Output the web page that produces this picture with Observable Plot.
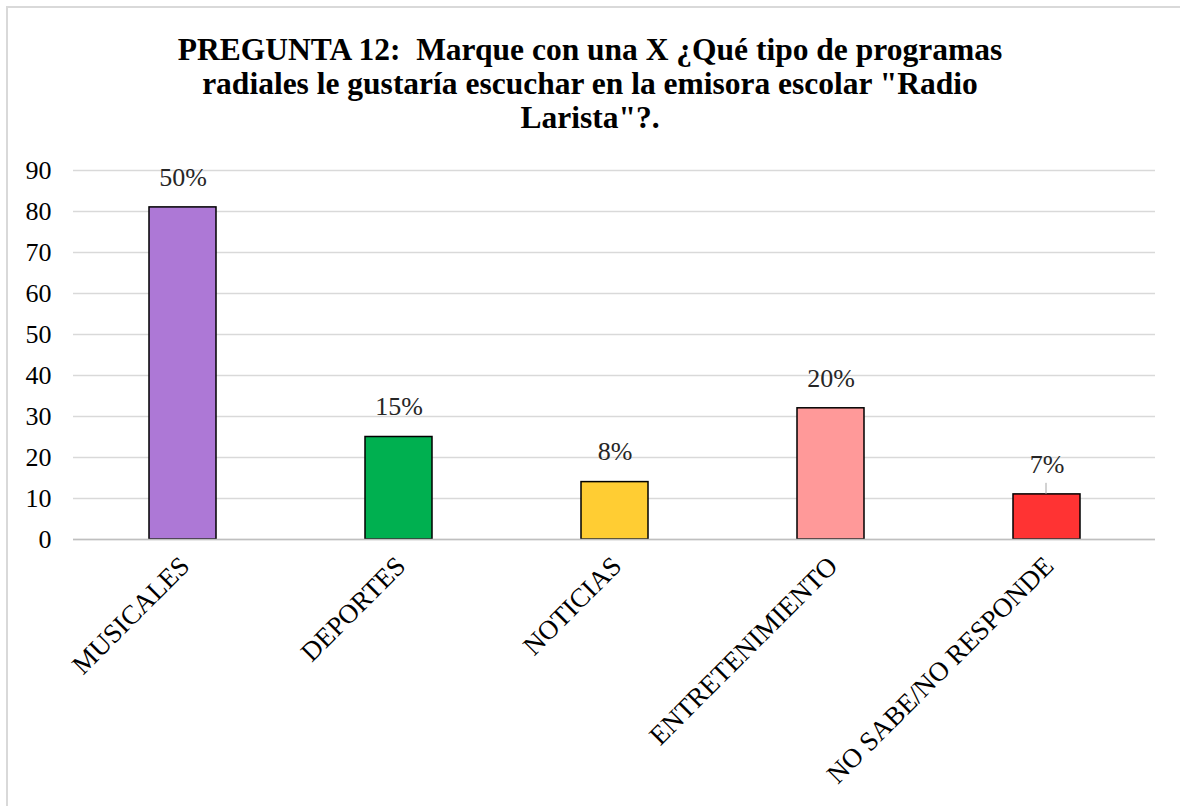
<!DOCTYPE html>
<html>
<head>
<meta charset="utf-8">
<script src="https://cdn.jsdelivr.net/npm/d3@7"></script>
<script src="https://cdn.jsdelivr.net/npm/@observablehq/plot@0.6"></script>
<style>
  html, body { margin: 0; padding: 0; background: #fff; }
  #wrap { position: relative; width: 1180px; height: 806px; overflow: hidden; font-family: "Liberation Serif", "Times New Roman", serif; }
  #frame { position: absolute; left: 6px; top: 6px; width: 1300px; height: 900px; border-left: 2px solid #d9d9d9; border-top: 2px solid #d9d9d9; box-sizing: border-box; }
  #title { position: absolute; left: 0; width: 1180px; top: 33px; text-align: center; font-weight: bold; font-size: 31.5px; line-height: 34px; color: #000; white-space: pre; }
  #chart { position: absolute; left: 0; top: 140px; }
  #chart svg, #chart svg text { font-family: "Liberation Serif", "Times New Roman", serif !important; }
</style>
</head>
<body>
<div id="wrap">
  <div id="frame"></div>
  <div id="title"></div>
  <div id="chart"></div>
</div>
<script>
const titleLines = [
  "PREGUNTA 12:  Marque con una X ¿Qué tipo de programas",
  "radiales le gustaría escuchar en la emisora escolar \"Radio",
  "Larista\"?."
];
const categories = ["MUSICALES", "DEPORTES", "NOTICIAS", "ENTRETENIMIENTO", "NO SABE/NO RESPONDE"];
const values = [81, 25, 14, 32, 11];
const percentLabels = ["50%", "15%", "8%", "20%", "7%"];
const colors = ["#AD78D6", "#00B050", "#FFCD33", "#FF9999", "#FF3333"];
const yTicks = [0, 10, 20, 30, 40, 50, 60, 70, 80, 90];
const leaderCategory = ["NO SABE/NO RESPONDE"];

document.getElementById("title").textContent = titleLines.join("\n");

const data = categories.map((c, i) => ({cat: c, value: values[i], label: percentLabels[i], color: colors[i]}));
const leader = data.filter(d => leaderCategory.includes(d.cat));

const chart = Plot.plot({
  width: 1180,
  height: 666,
  marginTop: 30,
  marginBottom: 267,
  marginLeft: 73,
  marginRight: 25,
  style: {fontFamily: "Liberation Serif, serif", fontSize: "24px", background: "transparent", color: "#000"},
  x: {domain: categories, paddingInner: 0.69, paddingOuter: 0.345, label: null},
  y: {domain: [0, 90], label: null},
  marks: [
    Plot.gridY(yTicks, {stroke: "#d9d9d9", strokeOpacity: 1, strokeWidth: 1.5}),
    Plot.axisY(yTicks, {tickSize: 0, tickPadding: 22, fontSize: 26, fill: "#000", label: null}),
    Plot.axisX({tickSize: 0, tickRotate: -45, tickPadding: 22, dx: 2, fontSize: 27, fill: "#000", label: null}),
    Plot.barY(data, {x: "cat", y: "value", fill: "color", stroke: "#000", strokeWidth: 1.5}),
    Plot.ruleY([0], {stroke: "#bfbfbf", strokeWidth: 1.5}),
    Plot.ruleX(leader, {x: "cat", y1: "value", y2: d => d.value + 2.7, stroke: "#a6a6a6", strokeWidth: 1, dx: -1}),
    Plot.text(data, {x: "cat", y: "value", text: "label", dy: -30, fontSize: 26, fill: "#262626"})
  ]
});
document.getElementById("chart").appendChild(chart);
</script>
</body>
</html>
